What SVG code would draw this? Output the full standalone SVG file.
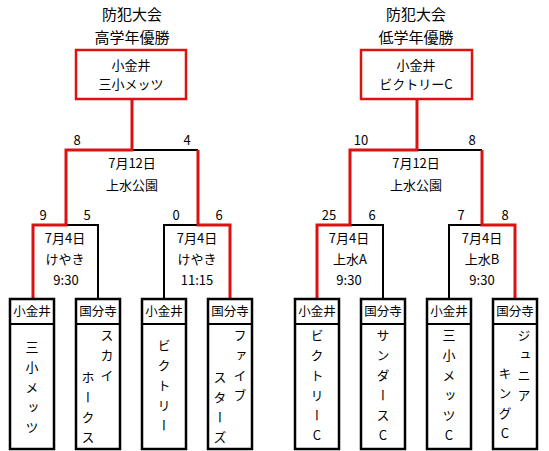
<svg xmlns="http://www.w3.org/2000/svg" width="549" height="451" viewBox="0 0 549 451">
<style>
text{font-family:"Noto Sans CJK JP","Noto Sans",sans-serif;fill:#000;text-anchor:middle}
.t{font-size:15px}
.c{font-size:13px}
.s{font-size:13px}
.h{font-size:12.5px}
.v{font-size:13px;writing-mode:vertical-rl;text-orientation:upright;text-anchor:start;letter-spacing:7px}
.r{stroke:#dd1111;stroke-width:3;fill:none}
.k{stroke:#000;stroke-width:2;fill:none}
.cb{stroke:#dd1111;stroke-width:2.5;fill:#fff}
.tb{stroke:#000;stroke-width:2.5;fill:#fff}
</style>
<g id="connectors">
<path class="k" d="M132 150H198M66 225H98V299M164 299V225H198"/>
<path class="r" d="M132 99V150H66V225H33V299M198 150V225H230V299"/>
<path class="k" d="M417 150H482M350 225H383V299M449 299V225H482"/>
<path class="r" d="M417 99V150H350V225H317V299M482 150V225H515V299"/>
</g>
<g id="title-left">
<text class="t" x="132" y="20">防犯大会</text>
<text class="t" x="132" y="43">高学年優勝</text>
</g>
<g id="title-right">
<text class="t" x="416" y="20">防犯大会</text>
<text class="t" x="416" y="43">低学年優勝</text>
</g>
<g id="champ-left">
<rect class="cb" x="76" y="50" width="110" height="49"/>
<text class="c" x="131" y="69.5">小金井</text>
<text class="c" x="131" y="88.5">三小メッツ</text>
</g>
<g id="champ-right">
<rect class="cb" x="361" y="50" width="111" height="49"/>
<text class="c" x="416" y="69.5">小金井</text>
<text class="c" x="416" y="88.5">ビクトリーC</text>
</g>
<g id="final-left">
<text class="s" x="77" y="145">8</text>
<text class="s" x="187" y="145">4</text>
<text class="s" x="132" y="168">7月12日</text>
<text class="s" x="132" y="190">上水公園</text>
</g>
<g id="final-right">
<text class="s" x="361" y="145">10</text>
<text class="s" x="472" y="145">8</text>
<text class="s" x="416" y="168">7月12日</text>
<text class="s" x="416" y="190">上水公園</text>
</g>
<g id="semi-1">
<text class="s" x="43" y="220">9</text>
<text class="s" x="87" y="220">5</text>
<text class="s" x="65" y="243">7月4日</text>
<text class="s" x="65" y="264">けやき</text>
<text class="s" x="66" y="285">9:30</text>
</g>
<g id="semi-2">
<text class="s" x="176" y="220">0</text>
<text class="s" x="219" y="220">6</text>
<text class="s" x="197" y="243">7月4日</text>
<text class="s" x="197" y="264">けやき</text>
<text class="s" x="197" y="285">11:15</text>
</g>
<g id="semi-3">
<text class="s" x="329" y="220">25</text>
<text class="s" x="372" y="220">6</text>
<text class="s" x="349" y="243">7月4日</text>
<text class="s" x="350" y="264">上水A</text>
<text class="s" x="349" y="285">9:30</text>
</g>
<g id="semi-4">
<text class="s" x="461" y="220">7</text>
<text class="s" x="505" y="220">8</text>
<text class="s" x="482" y="243">7月4日</text>
<text class="s" x="482" y="264">上水B</text>
<text class="s" x="482" y="285">9:30</text>
</g>
<g id="team-1">
<rect class="tb" x="10" y="299" width="44" height="150"/><path class="k" d="M10 324H54"/>
<text class="h" x="32" y="316">小金井</text>
<text class="v" x="32" y="340.5">三小メッツ</text>
</g>
<g id="team-2">
<rect class="tb" x="76" y="299" width="44" height="150"/><path class="k" d="M76 324H120"/>
<text class="h" x="98" y="316">国分寺</text>
<text class="v" x="107" y="328.5">スカイ</text>
<text class="v" x="88" y="370.5">ホークス</text>
</g>
<g id="team-3">
<rect class="tb" x="142" y="299" width="44" height="150"/><path class="k" d="M142 324H186"/>
<text class="h" x="164" y="316">小金井</text>
<text class="v" x="164" y="338.5">ビクトリー</text>
</g>
<g id="team-4">
<rect class="tb" x="208" y="299" width="44" height="150"/><path class="k" d="M208 324H252"/>
<text class="h" x="230" y="316">国分寺</text>
<text class="v" x="240" y="328.5">ファイブ</text>
<text class="v" x="220" y="370.5">スターズ</text>
</g>
<g id="team-5">
<rect class="tb" x="295" y="299" width="44" height="150"/><path class="k" d="M295 324H339"/>
<text class="h" x="317" y="316">小金井</text>
<text class="v" x="317" y="328.5">ビクトリーC</text>
</g>
<g id="team-6">
<rect class="tb" x="361" y="299" width="44" height="150"/><path class="k" d="M361 324H405"/>
<text class="h" x="383" y="316">国分寺</text>
<text class="v" x="383" y="328.5">サンダースC</text>
</g>
<g id="team-7">
<rect class="tb" x="427" y="299" width="44" height="150"/><path class="k" d="M427 324H471"/>
<text class="h" x="449" y="316">小金井</text>
<text class="v" x="449" y="328.5">三小メッツC</text>
</g>
<g id="team-8">
<rect class="tb" x="493" y="299" width="44" height="150"/><path class="k" d="M493 324H537"/>
<text class="h" x="515" y="316">国分寺</text>
<text class="v" x="524" y="328.5">ジュニア</text>
<text class="v" x="505" y="366.5">キングC</text>
</g>
</svg>
